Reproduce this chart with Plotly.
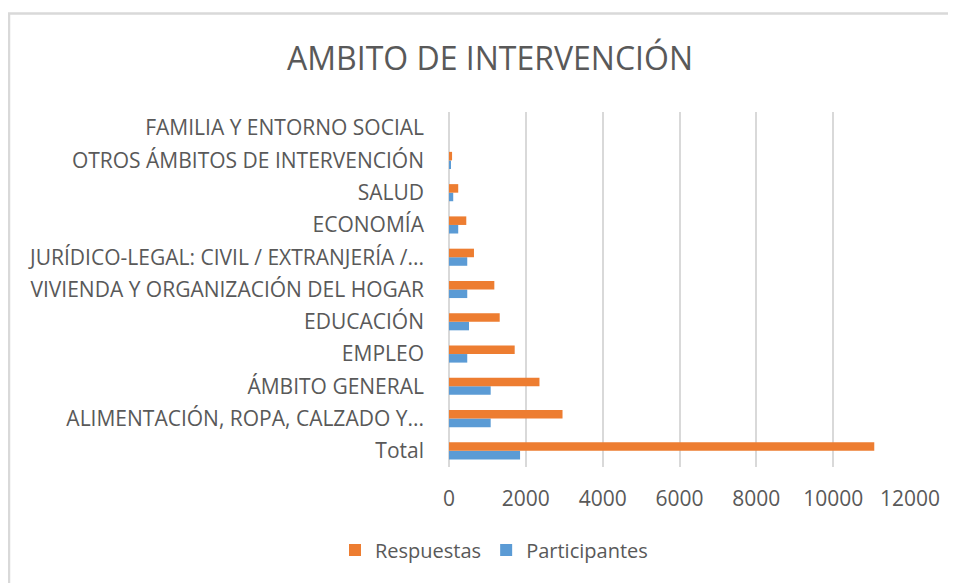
import plotly.graph_objects as go

categories = [
    "Total",
    "ALIMENTACIÓN, ROPA, CALZADO Y...",
    "ÁMBITO GENERAL",
    "EMPLEO",
    "EDUCACIÓN",
    "VIVIENDA Y ORGANIZACIÓN DEL HOGAR",
    "JURÍDICO-LEGAL: CIVIL / EXTRANJERÍA /...",
    "ECONOMÍA",
    "SALUD",
    "OTROS ÁMBITOS DE INTERVENCIÓN",
    "FAMILIA Y ENTORNO SOCIAL",
]
participantes = [1850, 1085, 1085, 475, 520, 475, 475, 240, 110, 40, 0]
respuestas = [11070, 2955, 2355, 1710, 1320, 1180, 650, 450, 240, 80, 0]
x_ticks = [0, 2000, 4000, 6000, 8000, 10000, 12000]

FONT = "Open Sans"
TXT = "#595959"

OFF = 8  # page body margin
W, H = 956 - OFF, 583 - OFF
L = 449 - OFF
R = 956 - 910
T = 112 - OFF
B = 583 - 467
pw, ph = W - L - R, H - T - B

def px(x):
    return (x - OFF - L) / pw

def py(y):
    return (H - B - (y - OFF)) / ph

fig = go.Figure()
fig.add_trace(go.Bar(y=categories, x=participantes, orientation="h", name="Participantes",
                     marker=dict(color="#5B9BD5", line=dict(width=0))))
fig.add_trace(go.Bar(y=categories, x=respuestas, orientation="h", name="Respuestas",
                     marker=dict(color="#ED7D31", line=dict(width=0))))

fig.update_layout(
    width=W, height=H,
    margin=dict(l=L, r=R, t=T, b=B),
    paper_bgcolor="white", plot_bgcolor="white",
    barmode="group", bargap=0.47, bargroupgap=0,
    font=dict(family=FONT, color=TXT, size=18),
    showlegend=True,
    legend=dict(orientation="h", x=px(494), xanchor="center", y=py(550), yanchor="middle",
                traceorder="reversed", font=dict(size=20, color=TXT), itemwidth=30),
    xaxis=dict(range=[0, 12000], tickvals=x_ticks, ticktext=[str(v) for v in x_ticks],
               showgrid=True, gridcolor="#D9D9D9", gridwidth=2, zeroline=False,
               showline=False, ticks="", tickfont=dict(size=21, color=TXT),
               ticklabelstandoff=17, fixedrange=True),
    yaxis=dict(type="category", categoryorder="array", categoryarray=categories,
               showgrid=False, zeroline=False, showline=False, ticks="",
               tickfont=dict(size=21, color=TXT), ticklabelstandoff=24, fixedrange=True),
    annotations=[dict(text="AMBITO DE INTERVENCIÓN", xref="paper", yref="paper",
                      x=px(490), y=py(58), xanchor="center", yanchor="middle",
                      showarrow=False, font=dict(size=32, color=TXT, family=FONT))],
    shapes=[
        dict(type="rect", xref="paper", yref="paper", x0=px(9), x1=px(1000),
             y0=py(640), y1=py(13.5), line=dict(color="#D9D9D9", width=2.5),
             fillcolor="rgba(0,0,0,0)", layer="below"),
        dict(type="line", xref="paper", yref="paper", x0=0, x1=0, y0=0, y1=1,
             line=dict(color="#D9D9D9", width=2), layer="below"),
    ],
)

fig.write_html("out.html")
